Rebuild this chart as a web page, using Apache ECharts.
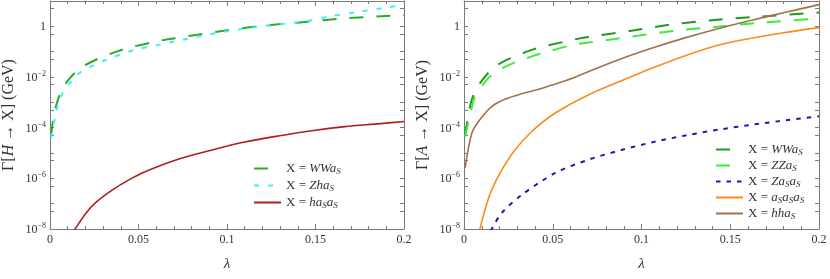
<!DOCTYPE html>
<html>
<head>
<meta charset="utf-8">
<script src="https://cdn.jsdelivr.net/npm/echarts@6/dist/echarts.min.js"></script>
<style>
html,body{margin:0;padding:0;background:#fff;}
#c{width:830px;height:279px;}
</style>
</head>
<body>
<div id="c"></div>
<script>
// ---------- data ----------
// Left panel: Γ[H → X]
const lamH_WW = [0.0006,0.002,0.004,0.0068,0.011,0.017,0.0235,0.031,0.0387,0.0465,0.062,0.0696,0.0934,0.117,0.141,0.1656,0.2];
const gamH_WW = [5.1e-5,2.6e-4,1.0e-3,3.2e-3,8.7e-3,2.2e-2,4.0e-2,6.8e-2,0.107,0.155,0.27,0.33,0.60,1.0,1.41,2.04,2.82];
const lamH_Zh = [0.0006,0.004,0.007,0.0118,0.0174,0.025,0.032,0.04,0.0474,0.0634,0.0696,0.0906,0.1178,0.1422,0.157,0.173,0.19,0.2];
const gamH_Zh = [4.0e-5,5.8e-4,2.2e-3,6.5e-3,1.6e-2,3.0e-2,4.9e-2,7.8e-2,0.115,0.20,0.245,0.49,0.98,1.5,2.4,3.6,5.5,7.1];
const lamH_haa = [0.0135,0.0142,0.0203,0.0259,0.0353,0.0446,0.054,0.0728,0.0916,0.110,0.129,0.148,0.1666,0.185,0.2];
const gamH_haa = [8.5e-9,1e-8,4.2e-8,1.12e-7,3.5e-7,8.7e-7,1.86e-6,5.8e-6,1.32e-5,2.7e-5,4.7e-5,7.6e-5,1.1e-4,1.41e-4,1.74e-4];
// Right panel: Γ[A → X]
const lamA_WW = [0.0006,0.0024,0.0043,0.0071,0.0114,0.017,0.024,0.0315,0.039,0.0465,0.062,0.07,0.0934,0.1178,0.1412,0.1656,0.2];
const gamA_WW = [5.1e-5,2.9e-4,1.23e-3,3.5e-3,9.5e-3,2.4e-2,4.7e-2,7.8e-2,0.123,0.17,0.30,0.38,0.66,1.2,1.78,2.4,3.5];
const lamA_ZZ = [0.0006,0.0043,0.0062,0.0114,0.017,0.024,0.0315,0.039,0.0465,0.062,0.07,0.0934,0.1178,0.1412,0.1656,0.2];
const gamA_ZZ = [4.5e-5,5.8e-4,1.66e-3,5.9e-3,1.48e-2,2.7e-2,4.5e-2,6.8e-2,9.8e-2,0.19,0.23,0.38,0.66,0.95,1.35,2.04];
const lamA_Zaa = [0.015,0.0156,0.0212,0.0325,0.0512,0.07,0.0887,0.1075,0.126,0.145,0.1638,0.1825,0.2];
const gamA_Zaa = [8.5e-9,1e-8,4.3e-8,2.2e-7,1.6e-6,5.4e-6,1.32e-5,2.8e-5,5.1e-5,8.7e-5,1.35e-4,2.0e-4,2.8e-4];
const lamA_aaa = [0.0085,0.009,0.0118,0.0156,0.0212,0.0287,0.038,0.0512,0.07,0.0887,0.1065,0.125,0.143,0.162,0.18,0.2];
const gamA_aaa = [7.2e-9,1e-8,5.8e-8,3.5e-7,2.1e-6,1.32e-5,6.9e-5,3.7e-4,1.95e-3,7.1e-3,2.3e-2,7.1e-2,0.18,0.34,0.56,0.89];
const lamA_hha = [0.0006,0.0045,0.009,0.0156,0.023,0.0325,0.0418,0.0512,0.0606,0.07,0.0868,0.1056,0.1244,0.143,0.162,0.1806,0.2];
const gamA_hha = [2.5e-6,6.3e-5,2.1e-4,6.8e-4,1.32e-3,2.2e-3,3.2e-3,5.2e-3,8.7e-3,1.62e-2,4.7e-2,0.135,0.35,0.81,1.74,3.5,7.2];

const xTicks = [0,0.05,0.1,0.15,0.2];
const yLabelVals = [1e-8,1e-6,1e-4,1e-2,1];
const yTickVals = [1e-8,5e-8,1e-7,5e-7,1e-6,5e-6,1e-5,5e-5,1e-4,5e-4,1e-3,5e-3,1e-2,5e-2,0.1,0.5,1,5,10];

const legendText = {
  H_WW: '{n|X = }{i|WWa}{s|S}',
  H_Zh: '{n|X = }{i|Zha}{s|S}',
  H_haa: '{n|X = }{i|ha}{s|S}{i|a}{s|S}',
  A_WW: '{n|X = }{i|WWa}{s|S}',
  A_ZZ: '{n|X = }{i|ZZa}{s|S}',
  A_Zaa: '{n|X = }{i|Za}{s|S}{i|a}{s|S}',
  A_aaa: '{n|X = }{i|a}{s|S}{i|a}{s|S}{i|a}{s|S}',
  A_hha: '{n|X = }{i|hha}{s|S}'
};

// ---------- chart ----------
const FONT = 'Liberation Serif';
const AX = '#7a7a7a';
const TXT = '#333';

function pairs(xs, ys){ return xs.map((x,i)=>[x, ys[i]]); }

function xAxes(gi){
  const base = {
    gridIndex: gi, type:'value', min:0, max:0.2, interval:0.05,
    splitLine:{show:false},
    axisLine:{show:true, onZero:false, lineStyle:{color:AX, width:1}},
    axisTick:{show:true, inside:true, length:5, lineStyle:{color:AX}},
    minorTick:{show:true, splitNumber:5, length:3, lineStyle:{color:AX}}
  };
  return [
    Object.assign({}, base, {
      position:'bottom',
      axisLabel:{show:true, margin:5, color:TXT, fontFamily:FONT, fontSize:12,
        formatter: v => v === 0 ? '0' : String(+v.toFixed(2))},
      name:'λ', nameLocation:'middle', nameGap:28,
      nameTextStyle:{fontFamily:FONT, fontSize:15, fontStyle:'italic', color:TXT}
    }),
    Object.assign({}, base, {position:'top', axisLabel:{show:false}})
  ];
}

function yAxes(gi, title){
  const base = {
    gridIndex: gi, type:'log', logBase:10, min:1e-8, max:10,
    splitLine:{show:false},
    axisLine:{show:true, onZero:false, lineStyle:{color:AX, width:1}},
    axisTick:{show:true, inside:true, length:4, customValues:yTickVals, lineStyle:{color:AX}},
    minorTick:{show:false}
  };
  return [
    Object.assign({}, base, {
      position:'left',
      axisLabel:{show:true, margin:4, customValues:yLabelVals, color:TXT, fontFamily:FONT, fontSize:12,
        formatter: v => {
          const e = Math.round(Math.log10(v));
          return e === 0 ? '{b|1}' : '{b|10}{p|−' + (-e) + '}';
        },
        rich:{
          b:{fontFamily:FONT, fontSize:12, color:TXT, lineHeight:14, verticalAlign:'bottom'},
          p:{fontFamily:FONT, fontSize:8, color:TXT, lineHeight:8, verticalAlign:'top'}
        }
      },
      name:title, nameLocation:'middle', nameGap:33, nameRotate:90,
      nameTextStyle:{fontFamily:FONT, fontSize:16, color:TXT,
        rich:{
          n:{fontFamily:FONT, fontSize:16, color:TXT},
          i:{fontFamily:FONT, fontSize:16, color:TXT, fontStyle:'italic'}
        }
      }
    }),
    Object.assign({}, base, {position:'right', axisLabel:{show:false}})
  ];
}

function lineSeries(name, xi, yi, xs, ys, color, width, dash){
  return {
    name, type:'line', xAxisIndex:xi, yAxisIndex:yi,
    data: pairs(xs, ys), showSymbol:false, symbol:'none',
    smooth:0.3, clip:true,
    lineStyle:{color, width, type: dash || 'solid', join:'round'},
    itemStyle:{color},
    emphasis:{disabled:true}
  };
}

const legendRich = {
  n:{fontFamily:FONT, fontSize:13, color:TXT, lineHeight:15},
  i:{fontFamily:FONT, fontSize:13, color:TXT, fontStyle:'italic', lineHeight:15},
  s:{fontFamily:FONT, fontSize:9, color:TXT, fontStyle:'italic', lineHeight:9, verticalAlign:'bottom'}
};

const legendBase = {
  orient:'vertical', itemWidth:27, itemHeight:12, selectedMode:false,
  itemStyle:{opacity:0},
  formatter: n => legendText[n],
  textStyle:{fontFamily:FONT, fontSize:13, color:TXT, rich:legendRich}
};

const option = {
  animation:false,
  backgroundColor:'#fff',
  grid:[
    {left:49, top:1, width:355, height:228, containLabel:false},
    {left:464, top:1, width:355, height:228, containLabel:false}
  ],
  xAxis:[...xAxes(0), ...xAxes(1)],
  yAxis:[...yAxes(0, '{n|Γ[}{i|H}{n| → X] (GeV)}'), ...yAxes(1, '{n|Γ[}{i|A}{n| → X] (GeV)}')],
  legend:[
    Object.assign({}, legendBase, {data:['H_WW','H_Zh','H_haa'], left:248, top:157, itemGap:3}),
    Object.assign({}, legendBase, {data:['A_WW','A_ZZ','A_Zaa','A_aaa','A_hha'], left:710, top:138, itemGap:2})
  ],
  series:[
    lineSeries('H_WW', 0, 0, lamH_WW, gamH_WW, '#27ad27', 2, [14,13]),
    lineSeries('H_Zh', 0, 0, lamH_Zh, gamH_Zh, '#3cf0f0', 2, [5,9]),
    lineSeries('H_haa', 0, 0, lamH_haa, gamH_haa, '#b21e1e', 1.6),
    lineSeries('A_WW', 2, 2, lamA_WW, gamA_WW, '#1e9a1e', 2, [14,13]),
    lineSeries('A_ZZ', 2, 2, lamA_ZZ, gamA_ZZ, '#3ced3c', 2, [14,13]),
    lineSeries('A_Zaa', 2, 2, lamA_Zaa, gamA_Zaa, '#1c1caa', 2, [4.5,6]),
    lineSeries('A_aaa', 2, 2, lamA_aaa, gamA_aaa, '#ff8a1c', 1.6),
    lineSeries('A_hha', 2, 2, lamA_hha, gamA_hha, '#a0714b', 1.6)
  ]
};

const chart = echarts.init(document.getElementById('c'), null, {renderer:'canvas'});
chart.setOption(option);
</script>
</body>
</html>
